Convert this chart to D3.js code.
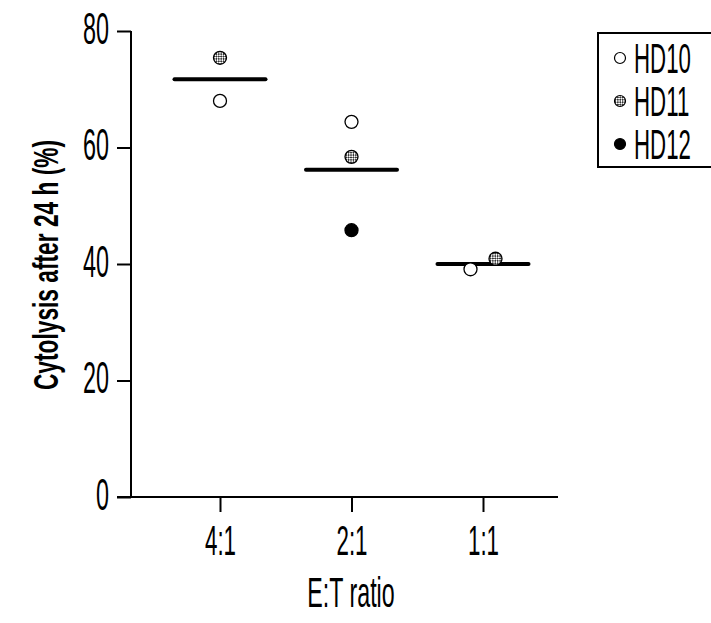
<!DOCTYPE html>
<html><head><meta charset="utf-8">
<script src="https://cdn.jsdelivr.net/npm/d3@7"></script>
<style>body{margin:0;background:#fff}svg{display:block}</style>
</head><body>
<svg id="c" width="711" height="623"></svg>
<script>
const categories = ["4:1", "2:1", "1:1"];
const seriesNames = ["HD10", "HD11", "HD12"];
const hd10 = [68.0, 64.4, 39.1];
const hd11 = [75.4, 58.4, 40.9];
const hd12 = [null, 45.8, null];
const means = [71.7, 56.2, 40.0];
const jitter = [[0, 0, 0], [0, 0, 0], [-12.5, 12.5, 0]]; // px offset per category, per series
const yTicks = [0, 20, 40, 60, 80];

const svg = d3.select("#c");
const font = "'Liberation Sans', Arial, sans-serif";

const y = d3.scaleLinear().domain([0, 80]).range([497, 31]);
const x = d3.scalePoint().domain(categories).range([220, 483]);

// pattern for HD11
const defs = svg.append("defs");
const pat = defs.append("pattern").attr("id", "hatch").attr("patternUnits", "userSpaceOnUse")
  .attr("width", 3.4).attr("height", 3.4).attr("patternTransform", "rotate(45)");
pat.append("rect").attr("width", 3.4).attr("height", 3.4).attr("fill", "#fff");
pat.append("rect").attr("width", 1.7).attr("height", 1.7).attr("fill", "#333");
pat.append("rect").attr("x", 1.7).attr("y", 1.7).attr("width", 1.7).attr("height", 1.7).attr("fill", "#333");

const fills = ["#fff", "url(#hatch)", "#000"];
const series = [hd10, hd11, hd12];

// y axis
const yAxis = d3.axisLeft(y).tickValues(yTicks).tickSize(14).tickPadding(10);
const gy = svg.append("g").attr("transform", "translate(131,0)").call(yAxis);
gy.select(".domain").attr("stroke", "#000").attr("stroke-width", 2).attr("d", "M0,31V497");
gy.selectAll(".tick line").attr("stroke", "#000").attr("stroke-width", 2);
gy.selectAll(".tick text").each(function(d) {
  const t = d3.select(this);
  t.attr("font-family", font).attr("font-size", 45).attr("fill", "#000")
   .attr("x", null).attr("dy", null).attr("text-anchor", "end")
   .attr("transform", `translate(-22,12) scale(0.52,1)`);
});

// x axis
const xAxis = d3.axisBottom(x).tickSize(15).tickPadding(10);
const gx = svg.append("g").attr("transform", "translate(0,497)").call(xAxis);
gx.select(".domain").attr("stroke", "#000").attr("stroke-width", 2).attr("d", "M117,0H558");
gx.selectAll(".tick line").attr("stroke", "#000").attr("stroke-width", 2);
gx.selectAll(".tick text").each(function() {
  d3.select(this).attr("font-family", font).attr("font-size", 43).attr("fill", "#000")
   .attr("y", null).attr("dy", null).attr("text-anchor", "middle")
   .attr("transform", "translate(0,58) scale(0.52,1)");
});

// axis titles
svg.append("text").attr("font-family", font).attr("font-size", 43).attr("text-anchor", "middle")
  .attr("transform", "translate(351,607) scale(0.54,1)").text("E:T ratio");
svg.append("text").attr("font-family", font).attr("font-size", 35).attr("font-weight", "bold")
  .attr("text-anchor", "middle")
  .attr("transform", "translate(58,265) rotate(-90) scale(0.65,1)").text("Cytolysis after 24 h (%)");

// mean lines
svg.append("g").selectAll("line").data(categories).join("line")
  .attr("x1", d => x(d) - 45.5).attr("x2", d => x(d) + 45.5)
  .attr("y1", (d, i) => y(means[i])).attr("y2", (d, i) => y(means[i]))
  .attr("stroke", "#000").attr("stroke-width", 4).attr("stroke-linecap", "round");

// points
series.forEach((vals, s) => {
  svg.append("g").selectAll("circle")
    .data(categories.map((c, i) => ({c, i, v: vals[i]})).filter(d => d.v != null))
    .join("circle")
    .attr("cx", d => x(d.c) + jitter[d.i][s]).attr("cy", d => y(d.v)).attr("r", 6.5)
    .attr("fill", fills[s]).attr("stroke", "#000").attr("stroke-width", 1.3);
});

// legend
const lg = svg.append("g");
lg.append("rect").attr("x", 598).attr("y", 33).attr("width", 130).attr("height", 134)
  .attr("fill", "none").attr("stroke", "#000").attr("stroke-width", 2);
seriesNames.forEach((n, s) => {
  const cy = 58 + s * 43;
  lg.append("circle").attr("cx", 620).attr("cy", cy).attr("r", 5.5)
    .attr("fill", fills[s]).attr("stroke", "#000").attr("stroke-width", 1.2);
  lg.append("text").attr("font-family", font).attr("font-size", 42)
    .attr("transform", `translate(634,${cy + 15}) scale(0.53,1)`).text(n);
});
</script>
</body></html>
